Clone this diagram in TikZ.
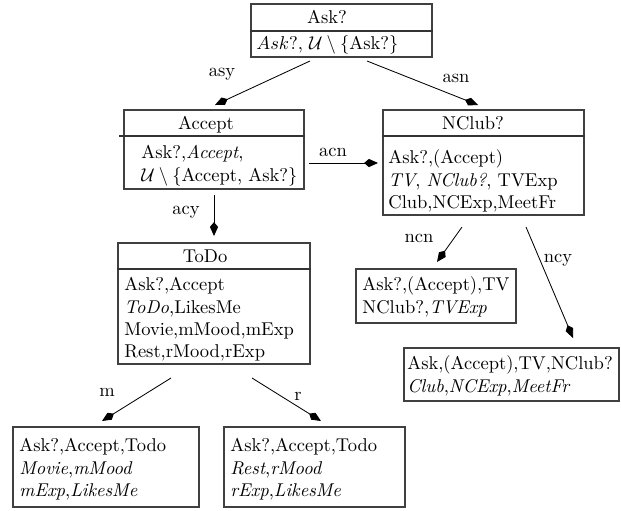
\documentclass[tikz,border=0pt]{standalone}
\usetikzlibrary{arrows.meta}
\newlength{\pxunit}\setlength{\pxunit}{0.54pt}
\begin{document}
\begin{tikzpicture}[x=0.54pt,y=-0.54pt,
  box/.style 2 args={draw=black!75,line width=0.65pt,inner sep=0pt,
    minimum width=#1*\pxunit,minimum height=#2*\pxunit},
  divider/.style={draw=black!80,line width=0.65pt},
  title/.style={anchor=base,inner sep=0pt},
  body/.style={anchor=north west,inner sep=0pt,align=left},
  lbl/.style={inner sep=0pt},
  arr/.style={-{Kite[length=7.5pt,width=4.4pt,inset=2.6pt]},line width=0.45pt}]
\useasboundingbox (0,0) rectangle (621,510);
% boxes
\node[box={181}{53}] (ask) at (341.5,30.5) {};
\node[box={180}{79}] (acc) at (214,149.5) {};
\node[box={201}{105}] (ncl) at (483.5,162.5) {};
\node[box={192}{121}] (todo) at (214,303.5) {};
\node[box={160}{54}] (ncn) at (436,296) {};
\node[box={215}{53}] (ncy) at (511.5,374.5) {};
\node[box={186}{80}] (mov) at (106,467) {};
\node[box={181}{80}] (rst) at (314.5,467) {};
% dividers
\draw[divider] (ask.west |- 0,31) -- (ask.east |- 0,31);
\draw[divider] (119,136) -- (acc.east |- 0,136);
\draw[divider] (ncl.west |- 0,136) -- (ncl.east |- 0,136);
\draw[divider] (todo.west |- 0,269) -- (todo.east |- 0,269);
% titles
\node[title] (askt) at (327,23.5) {Ask?};
\node[title] (acct) at (206,129) {Accept};
\node[title] (nclt) at (473,129) {NClub?};
\node[title] (todot) at (205,262) {ToDo};
% bodies
\node[body] (askb) at (256,34) {\strut$Ask?$, $\mathcal{U}\setminus\{$Ask?$\}$};
\node[body] (accb) at (141,143) {\strut Ask?,\textit{Accept},\\ $\mathcal{U}\setminus\{$Accept, Ask?$\}$};
\node[body] (nclb) at (388,148) {\strut Ask?,(Accept)\\ \textit{TV}, \textit{NClub?}, TVExp\\ Club,NCExp,MeetFr};
\node[body] (todob) at (124,275) {\strut Ask?,Accept\\ \textit{ToDo},LikesMe\\ Movie,mMood,mExp\\ Rest,rMood,rExp};
\node[body] (ncnb) at (362,275) {\strut Ask?,(Accept),TV\\ NClub?,\textit{TVExp}};
\node[body] (ncyb) at (407,354) {\strut Ask,(Accept),TV,NClub?\\ \textit{Club},\textit{NCExp},\textit{MeetFr}};
\node[body] (movb) at (19,436) {\strut Ask?,Accept,Todo\\ \textit{Movie},\textit{mMood}\\ \textit{mExp},\textit{LikesMe}};
\node[body] (rstb) at (230,436) {\strut Ask?,Accept,Todo\\ \textit{Rest},\textit{rMood}\\ \textit{rExp},\textit{LikesMe}};
% connector ends
\coordinate (asy1) at (310,61); \coordinate (asy2) at (215,105);
\coordinate (asn1) at (367,61); \coordinate (asn2) at (478,105);
\coordinate (acn1) at (309,163); \coordinate (acn2) at (378,163);
\coordinate (acy1) at (214,195); \coordinate (acy2) at (214,236);
\coordinate (ncn1) at (462,227); \coordinate (ncn2) at (437,262);
\coordinate (ncy1) at (526,227); \coordinate (ncy2) at (573,338);
\coordinate (m1) at (171,378); \coordinate (m2) at (102,421);
\coordinate (r1) at (252,378); \coordinate (r2) at (321,421);
\draw[arr] (asy1) -- (asy2);
\draw[arr] (asn1) -- (asn2);
\draw[arr] (acn1) -- (acn2);
\draw[arr] (acy1) -- (acy2);
\draw[arr] (ncn1) -- (ncn2);
\draw[arr] (ncy1) -- (ncy2);
\draw[arr] (m1) -- (m2);
\draw[arr] (r1) -- (r2);
% labels
\node[lbl] (asyl) at (222,74) {asy};
\node[lbl] (asnl) at (456,78) {asn};
\node[lbl] (acnl) at (333,152) {acn};
\node[lbl] (acyl) at (186,212) {acy};
\node[lbl] (ncnl) at (419,238) {ncn};
\node[lbl] (ncyl) at (558,260) {ncy};
\node[lbl] (ml) at (107,392) {m};
\node[lbl] (rl) at (298,396) {r};
\end{tikzpicture}
\end{document}
